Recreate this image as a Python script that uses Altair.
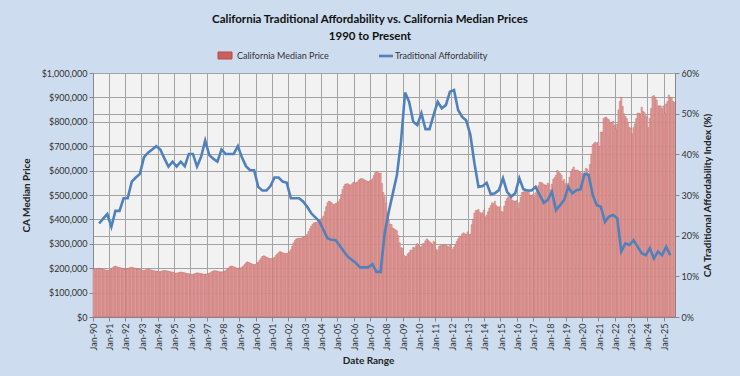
import altair as alt
import pandas as pd

MONTHS = ["Jan", "Feb", "Mar", "Apr", "May", "Jun", "Jul", "Aug", "Sep", "Oct", "Nov", "Dec"]
years = list(range(1990, 2026))

# California median price, thousands of dollars, one row per year (monthly)
median_price_k = [
    [196, 194, 197, 199, 200, 198, 197, 195, 194, 193, 192, 191],  # 1990
    [193, 197, 202, 207, 209, 206, 204, 203, 201, 200, 198, 197],  # 1991
    [197, 198, 200, 203, 204, 202, 201, 199, 197, 196, 195, 194],  # 1992
    [190, 191, 193, 195, 196, 195, 193, 192, 190, 189, 188, 187],  # 1993
    [185, 186, 188, 190, 191, 190, 189, 188, 186, 185, 184, 183],  # 1994
    [179, 180, 181, 183, 184, 183, 182, 181, 179, 178, 177, 176],  # 1995
    [174, 175, 177, 179, 181, 180, 179, 178, 177, 176, 176, 176],  # 1996
    [177, 179, 182, 186, 189, 190, 189, 188, 186, 185, 185, 185],  # 1997
    [187, 190, 195, 200, 206, 209, 208, 206, 203, 201, 200, 199],  # 1998
    [201, 204, 209, 215, 222, 226, 224, 221, 219, 216, 215, 215],  # 1999
    [220, 225, 233, 241, 248, 251, 249, 246, 243, 240, 240, 239],  # 2000
    [241, 245, 252, 258, 264, 268, 266, 263, 261, 260, 261, 262],  # 2001
    [268, 276, 290, 304, 314, 320, 322, 324, 322, 324, 328, 330],  # 2002
    [332, 338, 350, 362, 372, 380, 385, 388, 388, 392, 396, 402],  # 2003
    [405, 414, 432, 452, 468, 475, 472, 468, 462, 462, 465, 468],  # 2004
    [472, 482, 502, 522, 536, 544, 546, 546, 542, 541, 546, 552],  # 2005
    [551, 549, 554, 561, 566, 568, 566, 562, 560, 557, 555, 558],  # 2006
    [560, 566, 580, 591, 595, 592, 588, 590, 547, 510, 493, 467],  # 2007
    [430, 397, 381, 379, 365, 361, 357, 353, 334, 304, 284, 282],  # 2008
    [254, 247, 250, 259, 264, 275, 273, 286, 283, 292, 301, 293],  # 2009
    [285, 290, 300, 301, 312, 320, 315, 309, 304, 297, 310, 305],  # 2010
    [277, 273, 290, 292, 294, 294, 296, 294, 292, 287, 295, 284],  # 2011
    [276, 287, 295, 310, 320, 332, 329, 340, 345, 341, 338, 349],  # 2012
    [336, 340, 378, 401, 426, 436, 438, 441, 429, 423, 428, 438],  # 2013
    [410, 417, 431, 446, 457, 468, 464, 474, 458, 452, 451, 452],  # 2014
    [433, 430, 455, 475, 486, 493, 493, 489, 478, 475, 475, 477],  # 2015
    [444, 468, 490, 510, 512, 522, 515, 510, 514, 500, 496, 502],  # 2016
    [492, 509, 526, 538, 552, 552, 549, 543, 541, 540, 549, 539],  # 2017
    [521, 545, 565, 572, 581, 601, 592, 589, 581, 557, 564, 546],  # 2018
    [538, 548, 573, 595, 606, 615, 602, 602, 602, 597, 593, 587],  # 2019
    [569, 587, 609, 606, 588, 626, 667, 706, 712, 717, 711, 717],  # 2020
    [699, 758, 758, 813, 818, 819, 812, 808, 798, 797, 803, 786],  # 2021
    [771, 791, 849, 884, 900, 863, 833, 822, 813, 798, 777, 774],  # 2022
    [751, 776, 791, 813, 835, 836, 832, 860, 843, 838, 825, 819],  # 2023
    [776, 814, 855, 904, 908, 900, 889, 865, 866, 865, 853, 865],  # 2024
    [835, 873, 884, 910, 900, 900, 884, 880],                      # 2025
]

# Traditional affordability index (%), quarterly from Q2-1990 to Q2-2025
afford_pct = [
    23.0, 24.2, 25.3, 22.2, 26.1, 26.1, 29.2, 29.2, 33.3, 34.3,
    35.2, 39.3, 40.4, 41.2, 42.0, 41.2, 39.0, 37.0, 38.2, 37.0,
    38.2, 37.1, 40.1, 40.1, 37.0, 39.4, 43.4, 39.8, 38.9, 38.2,
    41.2, 40.1, 40.1, 40.1, 42.0, 39.3, 37.1, 36.1, 36.1, 32.0,
    31.1, 31.1, 32.2, 34.3, 34.3, 33.3, 33.0, 29.2, 29.2, 29.2,
    28.4, 27.1, 25.5, 24.5, 23.5, 21.4, 19.3, 19.0, 18.9, 17.5,
    16.1, 14.8, 14.0, 13.2, 12.2, 12.2, 12.2, 13.0, 11.1, 11.1,
    20.6, 25.9, 30.4, 34.9, 43.1, 55.2, 52.9, 48.0, 47.2, 50.1,
    46.2, 46.2, 49.7, 52.9, 51.3, 52.1, 55.4, 55.8, 50.9, 49.2,
    48.3, 44.8, 37.8, 32.0, 32.2, 33.0, 30.2, 30.4, 31.2, 34.1,
    30.8, 29.6, 30.4, 34.1, 31.4, 31.1, 31.1, 32.0, 30.0, 28.1,
    28.8, 30.8, 26.3, 27.5, 28.8, 32.0, 30.4, 31.2, 31.4, 35.2,
    34.9, 30.0, 27.5, 27.1, 23.4, 24.7, 25.1, 24.3, 16.1, 18.1,
    17.7, 18.9, 17.3, 15.7, 15.2, 16.9, 14.4, 16.1, 15.2, 17.3, 15.2,
]

# ---- build tables ----
labels, prices = [], []
for y, row in zip(years, median_price_k):
    for m, v in enumerate(row):
        labels.append(f"{MONTHS[m]}-{y % 100:02d}")
        prices.append(v * 1000)
price_df = pd.DataFrame({"month": labels, "price": prices})
jan_labels = [l for l in labels if l.startswith("Jan")]

q_months = [labels[3 * q + 1] for q in range(1, 1 + len(afford_pct))]
aff_df = pd.DataFrame({"month": q_months, "aff": afford_pct})

FONT = "Lato"
GRID = "#a3a3a3"

x_enc = alt.X(
    "month:O",
    sort=labels,
    scale=alt.Scale(domain=labels, paddingInner=0, paddingOuter=0),
    axis=alt.Axis(
        values=jan_labels, bandPosition=0, labelAngle=270, labelFontSize=9,
        labelColor="#333333", labelFont=FONT, tickSize=4, tickColor="#888888",
        domainColor="#888888", grid=True, gridColor=GRID, gridWidth=1,
        title="Date Range", titleFont=FONT, titleFontSize=10, titleFontWeight="bold",
        titleColor="#222222", titlePadding=6, titleX=275, labelPadding=2,
    ),
)

bars = alt.Chart(price_df).mark_bar(
    fill="#e4aeac", stroke="#c04e4b", strokeWidth=0.35
).encode(
    x=x_enc,
    y=alt.Y(
        "price:Q",
        scale=alt.Scale(domain=[0, 1000000], nice=False),
        axis=alt.Axis(
            values=list(range(0, 1000001, 100000)), format="$,.0f", orient="left",
            labelFontSize=9, labelFont=FONT, labelColor="#333333", tickSize=4,
            tickColor="#888888", domainColor="#888888", grid=True, gridColor=GRID,
            title="CA Median  Price", titleFont=FONT, titleFontSize=10,
            titleFontWeight="bold", titleColor="#222222", titlePadding=10,
        ),
    ),
)

line = alt.Chart(aff_df).mark_line(color="#4f81bd", strokeWidth=2.6).encode(
    x=alt.X("month:O", sort=labels),
    y=alt.Y(
        "aff:Q",
        scale=alt.Scale(domain=[0, 60], nice=False),
        axis=alt.Axis(
            values=[0, 10, 20, 30, 40, 50, 60], orient="right",
            labelExpr="datum.value + '%'", labelFontSize=9, labelFont=FONT,
            labelColor="#333333", tickSize=4, tickColor="#888888",
            domainColor="#888888", grid=True, gridColor=GRID,
            title="CA Traditional Affordability Index (%)", titleAngle=270,
            titleFont=FONT, titleFontSize=10, titleFontWeight="bold",
            titleColor="#222222", titlePadding=14,
        ),
    ),
)

one = pd.DataFrame({"k": [0]})
leg_box = alt.Chart(one).mark_rect(fill="#c9605d", stroke="#b94a47").encode(
    x=alt.value(125), x2=alt.value(139), y=alt.value(-21), y2=alt.value(-14)
)
leg_t1 = alt.Chart(one).mark_text(
    align="left", baseline="middle", fontSize=9, font=FONT, color="#333333"
).encode(x=alt.value(144), y=alt.value(-17), text=alt.value("California Median Price"))
leg_line = alt.Chart(one).mark_rule(color="#4f81bd", strokeWidth=2.6).encode(
    x=alt.value(286), x2=alt.value(300), y=alt.value(-17)
)
leg_t2 = alt.Chart(one).mark_text(
    align="left", baseline="middle", fontSize=9, font=FONT, color="#333333"
).encode(x=alt.value(302), y=alt.value(-17), text=alt.value("Traditional Affordability"))

chart = (
    alt.layer(bars, line, leg_box, leg_t1, leg_line, leg_t2)
    .resolve_scale(y="independent")
    .properties(
        width=582, height=244,
        title=alt.TitleParams(
            text=["California Traditional Affordability  vs. California Median Prices",
                  "1990 to Present"],
            anchor="middle", font=FONT, fontSize=11.5, fontWeight="bold",
            color="#111111", lineHeight=17, offset=9, dx=-14,
        ),
        autosize=alt.AutoSizeParams(type="none"),
        padding={"left": 93, "top": 73, "right": 65, "bottom": 59},
        background="#cddcee",
    )
    .configure_view(fill="#f2f2f2", stroke="#999999", strokeWidth=1)
)

chart.save("out.html", embed_options={"renderer": "svg", "actions": False})
